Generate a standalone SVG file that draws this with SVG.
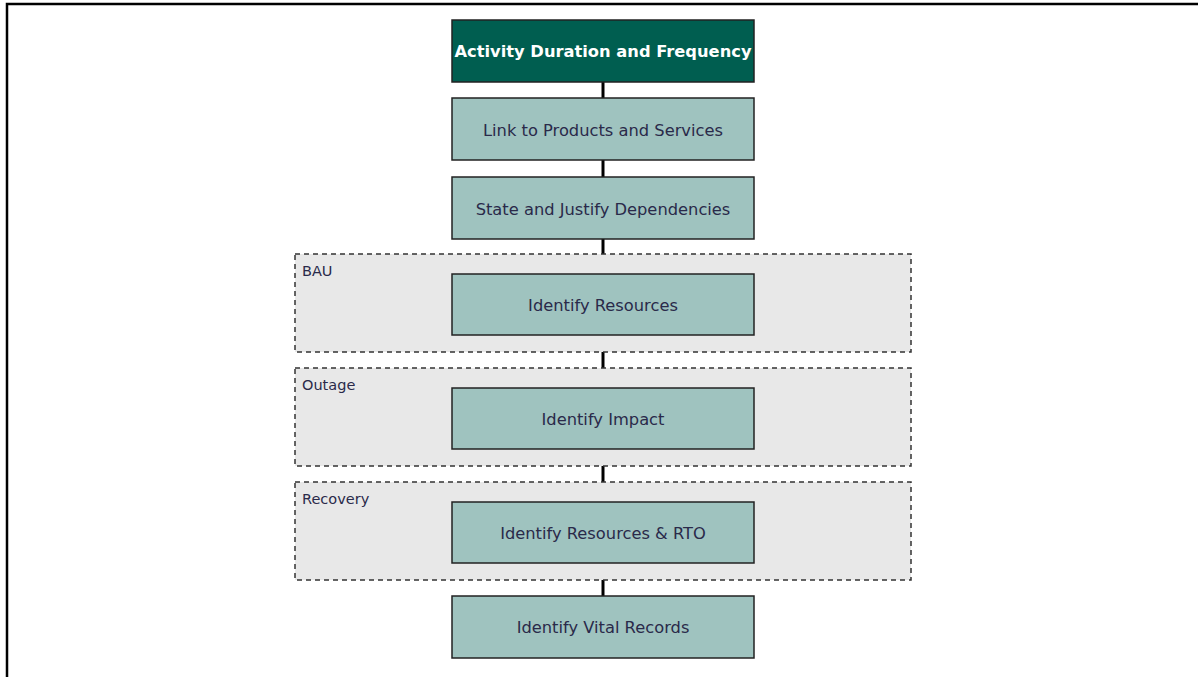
<svg xmlns="http://www.w3.org/2000/svg" width="1198" height="677" viewBox="0 0 1198 677">
  <style>
    .frame { fill: none; stroke: #000; stroke-width: 2.5; }
    .link { stroke: #000; stroke-width: 3; fill: none; }
    .group rect { fill: #e8e8e8; stroke: #333; stroke-width: 1.5; stroke-dasharray: 5 4; }
    .group text { font-family: "DejaVu Sans", sans-serif; font-size: 14.5px; fill: #2a2a4a; }
    .node rect { fill: #9fc3bf; stroke: #222; stroke-width: 1.5; }
    .node text { font-family: "DejaVu Sans", sans-serif; font-size: 16.3px; fill: #2a2a4a; text-anchor: middle; }
    .title rect { fill: #005e50; }
    .title text { fill: #fff; font-weight: bold; }
  </style>

  <!-- outer frame (open to the right and bottom) -->
  <polyline class="frame" points="7,677 7,4 1198,4"/>

  <!-- connectors -->
  <g id="connectors">
    <line class="link" x1="603" y1="82" x2="603" y2="98"/>
    <line class="link" x1="603" y1="160" x2="603" y2="177"/>
    <line class="link" x1="603" y1="239" x2="603" y2="274"/>
    <line class="link" x1="603" y1="335" x2="603" y2="388"/>
    <line class="link" x1="603" y1="449" x2="603" y2="502"/>
    <line class="link" x1="603" y1="563" x2="603" y2="596"/>
  </g>

  <!-- phase groups -->
  <g id="group-bau" class="group">
    <rect x="295" y="254" width="616" height="98"/>
    <text x="302" y="276">BAU</text>
  </g>
  <g id="group-outage" class="group">
    <rect x="295" y="368" width="616" height="98"/>
    <text x="302" y="390">Outage</text>
  </g>
  <g id="group-recovery" class="group">
    <rect x="295" y="482" width="616" height="98"/>
    <text x="302" y="504">Recovery</text>
  </g>

  <!-- process steps -->
  <g id="node-activity" class="node title">
    <rect x="452" y="20" width="302" height="62"/>
    <text x="603" y="57">Activity Duration and Frequency</text>
  </g>
  <g id="node-link" class="node">
    <rect x="452" y="98" width="302" height="62"/>
    <text x="603" y="136">Link to Products and Services</text>
  </g>
  <g id="node-dependencies" class="node">
    <rect x="452" y="177" width="302" height="62"/>
    <text x="603" y="215">State and Justify Dependencies</text>
  </g>
  <g id="node-resources" class="node">
    <rect x="452" y="274" width="302" height="61"/>
    <text x="603" y="311">Identify Resources</text>
  </g>
  <g id="node-impact" class="node">
    <rect x="452" y="388" width="302" height="61"/>
    <text x="603" y="425">Identify Impact</text>
  </g>
  <g id="node-rto" class="node">
    <rect x="452" y="502" width="302" height="61"/>
    <text x="603" y="539">Identify Resources &amp; RTO</text>
  </g>
  <g id="node-vital" class="node">
    <rect x="452" y="596" width="302" height="62"/>
    <text x="603" y="633">Identify Vital Records</text>
  </g>
</svg>
